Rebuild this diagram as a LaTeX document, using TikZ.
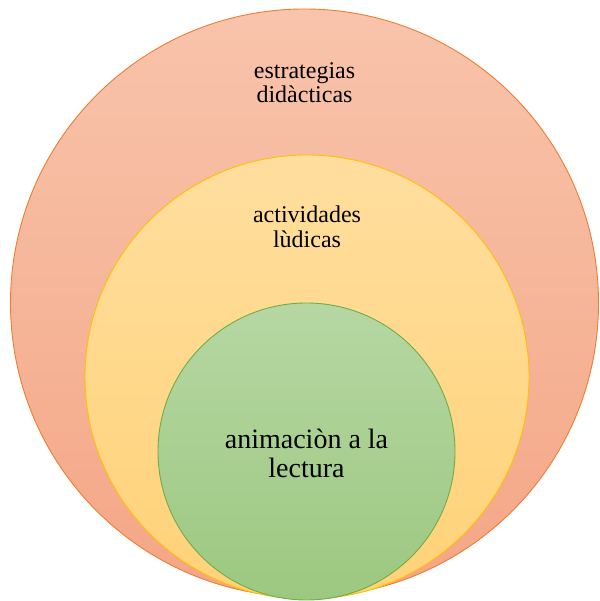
\documentclass[tikz,border=0pt]{standalone}
\usepackage{fontspec}
\setmainfont{Liberation Serif}
\newfontfamily\timesf{Liberation Serif}
\usepackage{tikz}
\usetikzlibrary{positioning}
\definecolor{orline}{RGB}{237,125,49}
\definecolor{ortop}{RGB}{248,196,171}
\definecolor{orbot}{RGB}{244,166,134}
\definecolor{yeline}{RGB}{255,192,0}
\definecolor{yetop}{RGB}{255,222,158}
\definecolor{yebot}{RGB}{255,210,120}
\definecolor{grline}{RGB}{112,173,71}
\definecolor{grtop}{RGB}{182,215,163}
\definecolor{grbot}{RGB}{156,200,128}
\tikzstyle{ring} = [circle, inner sep=0pt, line width=0.9pt]
\tikzstyle{lbl} = [align=center, font=\timesf\fontsize{24}{24.5}\selectfont]

\begin{document}
\begin{tikzpicture}[x=1pt, y=1pt]
		\useasboundingbox (0,0) rectangle (599,601);
		\node (outer) [ring, minimum size=588pt, draw=orline, top color=ortop, bottom color=orbot] at (304.5,298) {};
		\node (mid) [ring, minimum size=444pt, draw=yeline, top color=yetop, bottom color=yebot] at (307,224) {};
		\node (inner) [ring, minimum size=297pt, draw=grline, top color=grtop, bottom color=grbot] at (306.5,149.5) {};
		\node (testr) [lbl] at ([yshift=-74pt]outer.north) {estrategias\\didàcticas};
		\node (tact) [lbl] at ([yshift=-72pt]mid.north) {actividades\\lùdicas};
		\node (tanim) [lbl, font=\timesf\fontsize{28}{28.5}\selectfont] at ([yshift=-2pt]inner.center) {animaciòn a la\\lectura};
\end{tikzpicture}
\end{document}
